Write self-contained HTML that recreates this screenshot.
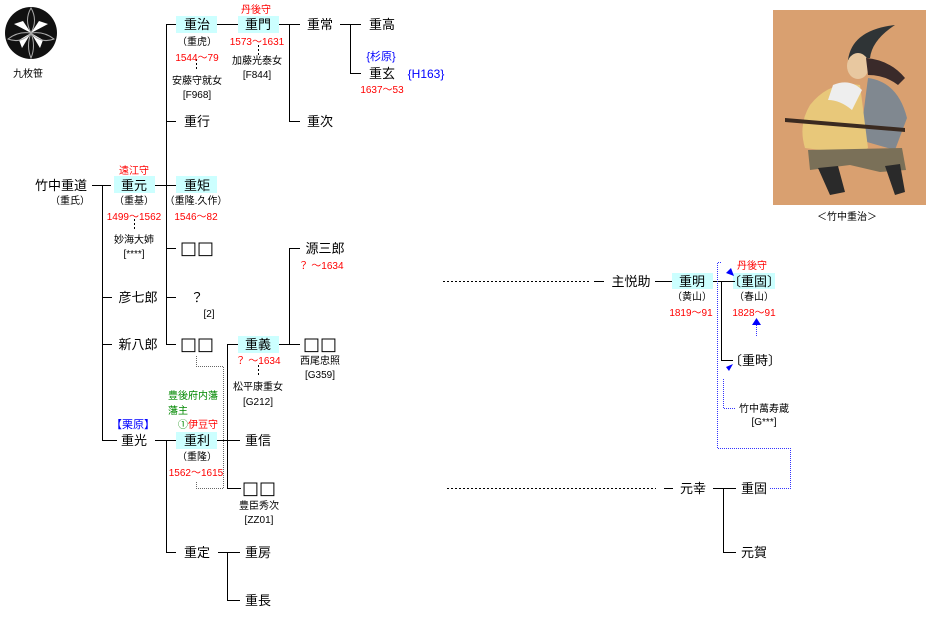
<!DOCTYPE html>
<html><head><meta charset="utf-8"><style>
html,body{margin:0;padding:0;background:#fff;}
svg{display:block;}
text{font-family:"Liberation Sans","Noto Sans CJK JP",sans-serif;}
.n{font-size:13px;fill:#000;}
.q{font-size:18px;fill:#000;font-family:"DejaVu Sans",sans-serif;}
.s{font-size:10px;fill:#000;}
.r{font-size:10px;fill:#f00;}
.b{font-size:11px;fill:#00f;}
.g{font-size:10px;fill:#080;}
</style></head><body>
<svg width="932" height="617" viewBox="0 0 932 617" xmlns="http://www.w3.org/2000/svg">
<rect width="932" height="617" fill="#fff"/>
<!-- crest -->
<circle cx="31" cy="33" r="26" fill="#111"/>
<g fill="#fff">
<path d="M31 33 L14 24 L23 21 Z"/>
<path d="M31 33 L48 24 L39 21 Z"/>
<path d="M31 33 L22 48 L19 40 Z"/>
<path d="M31 33 L40 48 L43 40 Z"/>
<path d="M31 33 L27 16 L35 16 Z" opacity="0"/>
</g>
<g stroke="#aaa" stroke-width="1" fill="none">
<path d="M31 33 Q24 20 31 8 Q38 20 31 33"/>
<path d="M31 33 Q44 31 54 39 Q41 44 31 33"/>
<path d="M31 33 Q18 31 8 39 Q21 44 31 33"/>
<path d="M31 33 Q36 46 31 58 Q26 46 31 33"/>
</g>
<text x="28" y="77" class="s" text-anchor="middle">九枚笹</text>

<!-- highlight boxes -->
<g fill="#ccffff">
<rect x="176" y="16" width="41" height="17"/>
<rect x="238" y="16" width="41" height="17"/>
<rect x="114" y="176" width="41" height="17"/>
<rect x="176" y="176" width="41" height="17"/>
<rect x="238" y="336" width="41" height="17"/>
<rect x="176" y="432" width="41" height="17"/>
<rect x="672" y="273" width="41" height="16"/>
<rect x="733" y="273" width="42" height="16"/>
</g>

<!-- lines -->
<g stroke="#000" stroke-width="1" fill="none" shape-rendering="crispEdges">
<path d="M92 185.5H111"/>
<path d="M102.5 185V440.5H117"/>
<path d="M102 297.5H112M102 344.5H112"/>
<path d="M155 185.5H176"/>
<path d="M166.5 24V344.5"/>
<path d="M166 24.5H176M166 121.5H176M166 248.5H176M166 297.5H176M166 344.5H176"/>
<path d="M217 24.5H238"/>
<path d="M279 24.5H300M289.5 24V121.5H300"/>
<path d="M340 24.5H361M350.5 24V73.5H361"/>
<path d="M227.5 344V488.5H241M227 344.5H238"/>
<path d="M279 344.5H300M289.5 248V344.5M289 248.5H300"/>
<path d="M217 440.5H240"/>
<path d="M155 440.5H176M166.5 440V552.5H176"/>
<path d="M218 552.5H240M227.5 552V600.5H240"/>
<path d="M594 281.5H604M655 281.5H672M713 281.5H735M721.5 281V360.5H733"/>
<path d="M664 488.5H673M713 488.5H736M723.5 488V552.5H736"/>
</g>
<g stroke="#000" stroke-width="1" stroke-dasharray="2,2" fill="none" shape-rendering="crispEdges">
<path d="M443 281.5H590"/>
<path d="M447 488.5H656"/>
<path d="M134.5 219V229M196.5 59V69M258.5 45V55M258.5 365V375"/>
</g>
<g stroke="#666" stroke-width="1" stroke-dasharray="1,1" fill="none" shape-rendering="crispEdges">
<path d="M196.5 356V366.5H223.5V488.5H196.5V482"/>
</g>
<g stroke="#33f" stroke-width="1" stroke-dasharray="1,1" fill="none" shape-rendering="crispEdges">
<path d="M770 488.5H790.5V448.5H717.5V262.5H722"/>
<path d="M735 408.5H723.5V378"/>
<path d="M756.5 336V324"/>
</g>
<g fill="#00f">
<path d="M734 276 L726 273 L731 268 Z"/>
<path d="M733 364 L729 371 L726 367 Z"/>
<path d="M756.5 318 L752 325 L761 325 Z"/>
</g>

<!-- texts -->
<text x="61" y="190" class="n" text-anchor="middle">竹中重道</text>
<text x="70" y="204" class="s" text-anchor="middle">（重氏）</text>
<text x="134" y="174" class="r" text-anchor="middle">遠江守</text>
<text x="134" y="190" class="n" text-anchor="middle">重元</text>
<text x="134" y="204" class="s" text-anchor="middle">（重基）</text>
<text x="134" y="220" class="r" text-anchor="middle">1499～1562</text>
<text x="134" y="243" class="s" text-anchor="middle">妙海大姉</text>
<text x="134" y="257" class="s" text-anchor="middle">[****]</text>
<text x="138" y="302" class="n" text-anchor="middle">彦七郎</text>
<text x="138" y="349" class="n" text-anchor="middle">新八郎</text>
<text x="133" y="428" class="b" text-anchor="middle">【栗原】</text>
<text x="134" y="445" class="n" text-anchor="middle">重光</text>

<text x="197" y="29" class="n" text-anchor="middle">重治</text>
<text x="197" y="45" class="s" text-anchor="middle">（重虎）</text>
<text x="197" y="61" class="r" text-anchor="middle">1544～79</text>
<text x="197" y="84" class="s" text-anchor="middle">安藤守就女</text>
<text x="197" y="98" class="s" text-anchor="middle">[F968]</text>
<text x="197" y="126" class="n" text-anchor="middle">重行</text>
<text x="197" y="190" class="n" text-anchor="middle">重矩</text>
<text x="196" y="204" class="s" text-anchor="middle">（重隆.久作）</text>
<text x="196" y="220" class="r" text-anchor="middle">1546～82</text>
<text x="197" y="254" class="q" text-anchor="middle">□□</text>
<text x="197" y="302" class="n" text-anchor="middle">？</text>
<text x="209" y="317" class="s" text-anchor="middle">[2]</text>
<text x="197" y="350" class="q" text-anchor="middle">□□</text>

<text x="256" y="13" class="r" text-anchor="middle">丹後守</text>
<text x="258" y="29" class="n" text-anchor="middle">重門</text>
<text x="257" y="45" class="r" text-anchor="middle">1573～1631</text>
<text x="257" y="64" class="s" text-anchor="middle">加藤光泰女</text>
<text x="257" y="78" class="s" text-anchor="middle">[F844]</text>
<text x="320" y="29" class="n" text-anchor="middle">重常</text>
<text x="320" y="126" class="n" text-anchor="middle">重次</text>
<text x="382" y="29" class="n" text-anchor="middle">重高</text>
<text x="381" y="60" class="b" text-anchor="middle">{杉原}</text>
<text x="382" y="78" class="n" text-anchor="middle">重玄</text>
<text x="426" y="78" class="b" text-anchor="middle" style="font-size:12px">{H163}</text>
<text x="382" y="93" class="r" text-anchor="middle">1637～53</text>

<text x="325" y="253" class="n" text-anchor="middle">源三郎</text>
<text x="321" y="269" class="r" text-anchor="middle">？ ～1634</text>
<text x="258" y="349" class="n" text-anchor="middle">重義</text>
<text x="258" y="364" class="r" text-anchor="middle">？ ～1634</text>
<text x="258" y="390" class="s" text-anchor="middle">松平康重女</text>
<text x="258" y="405" class="s" text-anchor="middle">[G212]</text>
<text x="320" y="350" class="q" text-anchor="middle">□□</text>
<text x="320" y="364" class="s" text-anchor="middle">西尾忠照</text>
<text x="320" y="378" class="s" text-anchor="middle">[G359]</text>

<text x="168" y="399" class="g">豊後府内藩</text>
<text x="168" y="414" class="g">藩主</text>
<text x="178" y="428" class="g">①<tspan fill="#f00">伊豆守</tspan></text>
<text x="197" y="445" class="n" text-anchor="middle">重利</text>
<text x="197" y="460" class="s" text-anchor="middle">（重隆）</text>
<text x="196" y="476" class="r" text-anchor="middle">1562～1615</text>
<text x="258" y="445" class="n" text-anchor="middle">重信</text>
<text x="259" y="494" class="q" text-anchor="middle">□□</text>
<text x="259" y="509" class="s" text-anchor="middle">豊臣秀次</text>
<text x="259" y="523" class="s" text-anchor="middle">[ZZ01]</text>
<text x="197" y="557" class="n" text-anchor="middle">重定</text>
<text x="258" y="557" class="n" text-anchor="middle">重房</text>
<text x="258" y="605" class="n" text-anchor="middle">重長</text>

<text x="631" y="286" class="n" text-anchor="middle">主悦助</text>
<text x="692" y="286" class="n" text-anchor="middle">重明</text>
<text x="692" y="300" class="s" text-anchor="middle">（黄山）</text>
<text x="691" y="316" class="r" text-anchor="middle">1819～91</text>
<text x="752" y="269" class="r" text-anchor="middle">丹後守</text>
<text x="754" y="286" class="n" text-anchor="middle">〔重固〕</text>
<text x="754" y="300" class="s" text-anchor="middle">（春山）</text>
<text x="754" y="316" class="r" text-anchor="middle">1828～91</text>
<text x="755" y="365" class="n" text-anchor="middle">〔重時〕</text>
<text x="764" y="412" class="s" text-anchor="middle">竹中萬寿蔵</text>
<text x="764" y="425" class="s" text-anchor="middle">[G***]</text>
<text x="693" y="493" class="n" text-anchor="middle">元幸</text>
<text x="754" y="493" class="n" text-anchor="middle">重固</text>
<text x="754" y="557" class="n" text-anchor="middle">元賀</text>

<!-- portrait -->
<rect x="773" y="10" width="153" height="195" fill="#d9a070"/>
<path d="M848 60 Q852 30 895 25 Q872 40 870 58 Z" fill="#2f3436"/>
<ellipse cx="858" cy="66" rx="11" ry="13" fill="#e8c8a0"/>
<path d="M866 58 Q890 60 905 78 L898 85 Q885 75 868 75 Z" fill="#3a2a2a"/>
<path d="M868 78 Q898 82 907 118 L895 150 L860 140 Z" fill="#808890"/>
<path d="M810 105 Q830 80 860 85 L868 148 L858 155 L805 148 Q798 125 810 105 Z" fill="#e8c87a"/>
<path d="M833 85 Q850 78 862 90 L852 110 Q840 100 828 100 Z" fill="#eee"/>
<path d="M808 150 L902 148 L906 170 L880 172 L850 165 L810 170 Z" fill="#7a7058"/>
<path d="M818 168 L830 195 L845 192 L838 166 Z M885 166 L895 195 L905 192 L900 164 Z" fill="#2a2a2a"/>
<path d="M785 118 L905 128 L905 132 L785 122 Z" fill="#3a2a20"/>
<text x="847" y="220" class="s" text-anchor="middle">＜竹中重治＞</text>
</svg>
</body></html>
